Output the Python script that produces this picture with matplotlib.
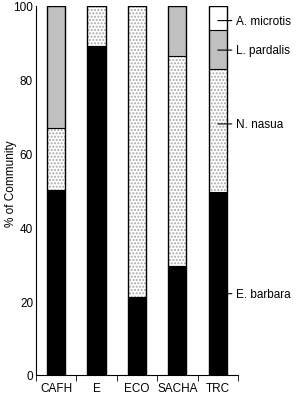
import numpy as np
import matplotlib
matplotlib.use('Agg')
import matplotlib.pyplot as plt

plt.rcParams['font.family'] = ['Liberation Sans', 'DejaVu Sans']

sites = ['CAFH', 'E', 'ECO', 'SACHA', 'TRC']
species = ['E. barbara', 'N. nasua', 'L. pardalis', 'A. microtis']
e_barbara = [50, 89, 21, 29.5, 49.5]
n_nasua = [17, 11, 79, 57, 33.5]
l_pardalis = [33, 0, 0, 13.5, 10.5]
a_microtis = [0, 0, 0, 0, 6.5]

fig = plt.figure(figsize=(2.99, 4.02), dpi=100)
ax = fig.add_axes([0.12, 0.065, 0.676, 0.918])

x = np.arange(len(sites))
w = 0.45
layers = [e_barbara, n_nasua, l_pardalis, a_microtis]
styles = [dict(color='black'), dict(color='white', hatch='.....'),
          dict(color='#c0c0c0'), dict(color='white')]
bottom = np.zeros(len(sites))
for vals, st in zip(layers, styles):
    vals = np.array(vals)
    if 'hatch' in st:
        ax.bar(x, vals, w, bottom=bottom, color='white', edgecolor='#a8a8a8',
               hatch=st['hatch'], linewidth=0)
    else:
        ax.bar(x, vals, w, bottom=bottom, color=st['color'], linewidth=0)
    bottom += vals
# outlines
ax.bar(x, bottom, w, fill=False, edgecolor='black', linewidth=1)
# segment borders
b = np.zeros(len(sites))
for vals in layers[:-1]:
    b += np.array(vals)
    for xi, bi in zip(x, b):
        if 0 < bi < 100:
            ax.plot([xi - w / 2, xi + w / 2], [bi, bi], color='black', lw=0.8)

ax.set_xlim(-0.5, 4.5)
ax.set_ylim(0, 100)
ax.set_yticks([0, 20, 40, 60, 80, 100])
ax.set_xticks(x)
ax.set_xticklabels(sites)
ax.set_xticks(np.arange(-0.5, 5, 1), minor=True)
ax.tick_params(axis='x', which='major', length=0, pad=5)
ax.tick_params(axis='x', which='minor', length=4, direction='out')
ax.tick_params(axis='y', length=0, pad=2)
ax.tick_params(labelsize=8.5, width=1)
ax.set_ylabel('% of Community', fontsize=8.5)
ax.yaxis.set_label_coords(-0.095, 0.52)
for s in ['top', 'right']:
    ax.spines[s].set_visible(False)

# species labels for TRC bar
label_y = [22, 68, 88, 96]
for name, ly in zip(species, label_y):
    ax.annotate(name, xy=(4.0, ly), xytext=(4.45, ly), fontsize=8.5,
                va='center', annotation_clip=False,
                arrowprops=dict(arrowstyle='-', color='black', lw=0.8,
                                shrinkA=1, shrinkB=0))

fig.savefig('out.png', dpi=100)
